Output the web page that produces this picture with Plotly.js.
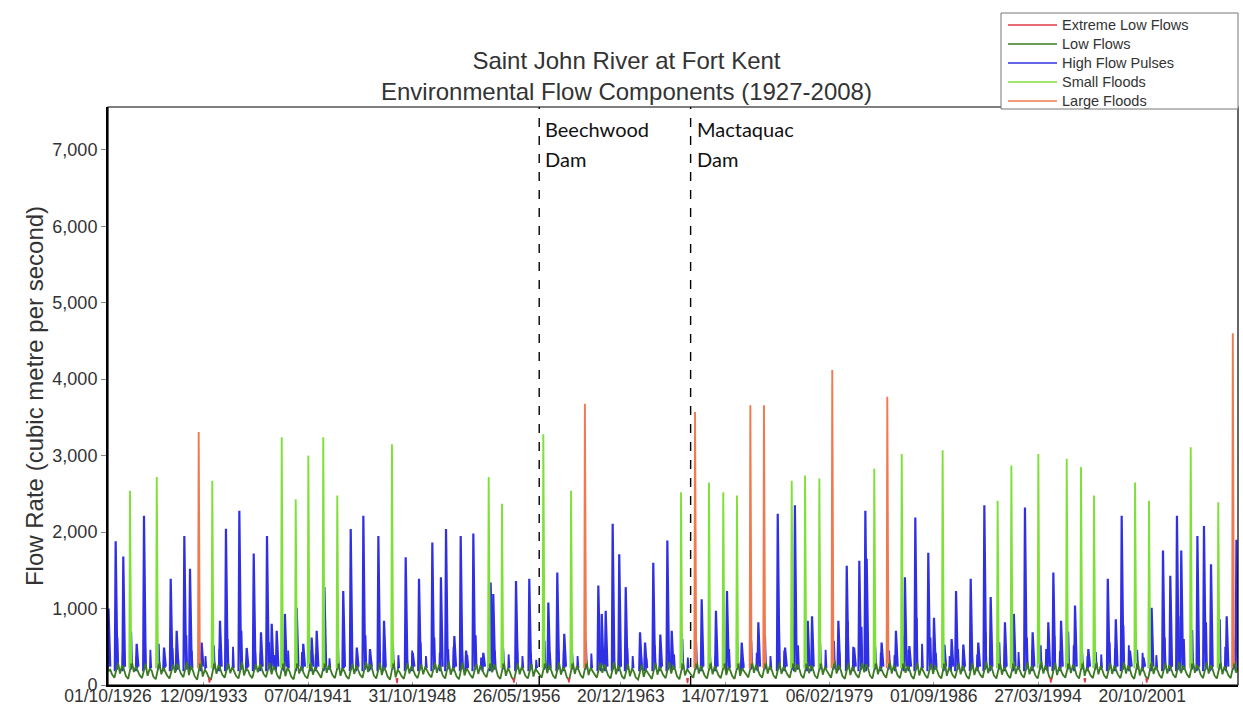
<!DOCTYPE html>
<html>
<head>
<meta charset="utf-8">
<script src="https://cdn.plot.ly/plotly-3.0.1.min.js"></script>
<style>
  html, body { margin: 0; padding: 0; background: #ffffff; }
  #chart { width: 1243px; height: 710px; }
</style>
</head>
<body>
<div id="chart"></div>
<script>
// ---------------- DATA ----------------
const tickDates = ['1926-10-01','1933-09-12','1941-04-07','1948-10-31','1956-05-26','1963-12-20',
                   '1971-07-14','1979-02-06','1986-09-01','1994-03-27','2001-10-20'];
const tickLabels = ['01/10/1926','12/09/1933','07/04/1941','31/10/1948','26/05/1956','20/12/1963',
                    '14/07/1971','06/02/1979','01/09/1986','27/03/1994','20/10/2001'];

const damDates = ['1958-01-15', '1969-01-10'];
const damNames = ['Beechwood', 'Mactaquac'];

const seriesNames = ['Extreme Low Flows','Low Flows','High Flow Pulses','Small Floods','Large Floods'];
const seriesColors = ['#e03a48','#3b7a22','#2f2fe3','#7fe03a','#f07a50'];

// Small floods (peak date, peak flow m3/s)
const smallFloodDates = ['1928-05-06','1930-04-15','1934-04-26','1939-05-10','1940-05-15','1941-04-15',
  '1942-05-15','1943-05-22','1947-05-10','1954-05-17','1955-05-05','1958-05-04','1960-05-08',
  '1968-05-01','1970-05-12','1971-05-25','1972-05-22','1976-05-12','1977-05-01','1978-05-15',
  '1982-05-10','1984-05-06','1987-04-25','1991-04-22','1992-04-20','1994-04-05','1996-04-26',
  '1997-05-10','1998-04-20','2001-04-12','2002-04-16','2005-04-26','2007-04-26'];
const smallFloodPeaks = [2540,2720,2670,3240,2430,3000,
  3240,2480,3150,2720,2370,3280,2540,
  2520,2650,2520,2480,2670,2740,2700,
  2830,3020,3070,2410,2870,3020,2960,
  2850,2480,2650,2410,3110,2390];

// Large floods
const largeFloodDates = ['1933-05-01','1961-05-10','1969-05-07','1973-05-12','1974-05-08',
  '1979-04-22','1983-04-20','2008-05-15'];
const largeFloodPeaks = [3310,3680,3570,3660,3660,4120,3770,4600];

// High flow pulses (main pulses)
const pulseDates = ['1926-10-15','1927-04-22','1927-11-10','1928-10-30','1929-05-12','1930-10-25',
  '1931-04-20','1931-09-25','1932-04-15','1932-09-12','1933-07-18','1934-11-16','1935-04-23',
  '1936-04-12','1936-10-24','1937-04-28','1937-11-06','1938-04-15','1938-08-18','1938-12-28',
  '1939-08-03','1940-06-10','1940-12-01','1941-07-12','1941-11-22','1942-06-15','1943-10-27',
  '1944-05-12','1944-10-20','1945-04-12','1945-10-05','1946-05-15','1946-10-12','1948-05-08',
  '1948-11-10','1949-04-26','1950-04-14','1950-11-28','1951-04-12','1951-11-18','1952-05-05',
  '1952-09-25','1953-04-05','1953-12-25','1954-07-08','1954-09-15','1956-05-10','1957-04-27',
  '1958-09-14','1959-05-09','1959-11-10','1962-05-01','1962-07-30','1962-11-12','1963-05-16',
  '1963-11-06','1964-04-26','1965-05-10','1965-09-20','1966-04-26','1966-10-30','1967-05-04',
  '1967-08-28','1969-10-30','1970-11-12','1971-09-01','1972-09-25','1973-12-10','1975-05-08',
  '1975-11-18','1976-08-05','1977-07-12','1977-11-02','1979-10-01','1980-05-10','1980-11-20',
  '1981-04-08','1981-09-15','1981-10-20','1982-11-20','1983-12-05','1984-07-30','1984-11-25',
  '1985-05-01','1986-04-10','1986-09-08','1987-06-10','1987-12-20','1988-04-15','1988-10-25',
  '1989-05-08','1989-11-25','1990-05-05','1990-10-20','1991-11-02','1992-06-25','1993-04-15',
  '1993-11-05','1994-12-25','1995-05-08','1995-11-28','1996-12-02','1997-11-20','1999-04-20',
  '1999-11-18','2000-04-22','2000-11-28','2001-11-20','2002-06-25','2003-04-22','2003-11-02',
  '2004-04-26','2004-08-18','2005-10-20','2006-04-12','2006-10-15','2007-12-05','2008-08-20'];
const pulsePeaks = [1000,1880,1680,540,2215,490,
  1390,710,1950,1520,555,840,2045,
  2280,485,1720,690,1950,800,710,
  930,1010,540,620,710,1280,1230,
  2040,490,2215,470,1950,840,1670,
  420,1390,1865,1410,2040,640,1950,
  450,1980,420,1340,1190,1360,1390,
  1080,1470,670,1300,930,970,2110,
  1710,1280,690,555,1600,660,1890,
  710,1120,970,1230,555,820,2240,
  490,2350,840,900,840,1560,490,
  1625,2280,1650,555,710,1410,510,
  2190,1730,880,530,600,1230,530,
  1390,555,2350,1150,820,930,2320,
  690,820,1470,840,1040,470,1390,
  860,2215,450,360,1010,1760,1430,
  2215,1760,1950,2080,1580,900,1900];

// Smaller recession / rain pulses that thicken the lower part of the record
const minorPulseYears = [1927,1928,1929,1930,1931,1932,1933,1934,1935,1936,1937,1938,1939,1940,
  1941,1942,1943,1944,1945,1946,1947,1948,1949,1950,1951,1952,1953,1954,1955,1956,1957,1958,1959,
  1960,1961,1962,1963,1964,1965,1966,1967,1968,1969,1970,1971,1972,1973,1974,1975,1976,1977,1978,
  1979,1980,1981,1982,1983,1984,1985,1986,1987,1988,1989,1990,1991,1992,1993,1994,1995,1996,1997,
  1998,1999,2000,2001,2002,2003,2004,2005,2006,2007,2008];
const minorPulseSpring = [620,700,560,540,480,650,420,520,600,710,430,560,470,380,
  450,520,600,480,650,430,540,400,560,620,470,500,650,560,480,520,410,580,460,
  430,560,470,600,480,390,520,450,600,560,430,480,510,580,640,900,780,620,540,
  580,830,760,500,450,640,880,620,520,470,480,690,560,600,620,520,640,700,480,
  430,560,780,460,500,620,900,720,820,860,600,580];
const minorPulseAutumn = [420,380,460,350,400,450,380,470,500,360,420,390,450,430,
  400,350,480,420,360,400,390,450,380,420,500,390,360,450,400,380,330,420,450,
  380,410,500,440,380,350,420,400,360,450,380,470,350,420,380,450,520,400,460,
  430,500,480,420,390,460,540,420,380,450,400,480,520,430,460,470,440,520,380,
  400,480,520,420,390,560,600,520,480,500,440,420];

// Extreme low flows
const extremeLowDates = ['1934-02-10','1947-09-20','1956-03-15','1960-03-10','1968-10-20',
  '1995-03-01','1997-08-20','2002-02-15'];
const extremeLowValues = [30,25,30,35,25,30,35,30];

// Low flows: seasonal readings (mid-Jan, late-Mar, late-Jun, mid-Aug, mid-Oct, early-Dec)
const lowFlowSeasonDays = ['01-15','03-20','06-25','08-15','10-10','12-01'];
const lowFlowYears = [1926].concat(minorPulseYears);
const lowFlowValues = [
  [null,null,null,null,180,200],
  [140,95,290,150,260,200],[120,80,310,170,240,180],[130,90,280,120,210,190],[110,75,300,140,230,170],
  [125,85,270,160,280,210],[150,100,305,130,250,185],[115,70,320,110,200,160],[105,65,295,145,265,200],
  [135,95,285,155,235,175],[120,85,300,125,215,190],[130,90,275,165,270,205],[145,100,290,140,250,195],
  [125,80,315,115,225,180],[110,75,300,150,245,170],[120,85,285,135,230,185],[140,95,310,160,260,200],
  [130,90,295,120,220,175],[115,80,280,145,255,190],[135,95,300,170,275,210],[125,85,290,130,235,180],
  [110,70,320,100,200,165],[120,80,285,150,250,190],[130,90,270,140,240,185],[140,100,295,160,265,200],
  [125,85,305,135,230,180],[115,75,290,125,215,175],[130,90,280,145,255,195],[145,100,315,165,270,205],
  [120,80,300,120,220,170],[100,65,285,140,240,180],[120,85,275,110,210,175],[135,95,310,155,260,195],
  [125,85,295,135,235,185],[105,65,300,145,250,190],[130,90,320,130,225,180],[140,95,290,160,270,205],
  [125,85,300,140,255,190],[115,80,280,115,215,170],[100,70,265,105,200,160],[120,80,290,135,240,180],
  [130,90,300,150,255,195],[115,75,295,125,205,170],[135,95,310,150,250,195],[125,85,300,140,245,190],
  [130,90,290,130,235,185],[120,80,305,120,220,175],[140,100,315,160,265,200],[135,95,310,150,250,195],
  [125,85,295,145,240,190],[140,95,300,170,270,210],[130,90,295,155,255,200],[125,85,300,135,235,185],
  [140,95,320,150,260,200],[120,80,290,130,240,185],[135,95,285,165,275,210],[125,85,305,140,240,190],
  [140,95,315,150,255,200],[130,90,300,160,250,195],[120,80,290,125,230,180],[130,90,280,145,255,190],
  [125,85,300,120,225,185],[130,90,285,140,250,190],[120,80,290,130,235,180],[135,95,305,155,260,200],
  [125,85,295,135,240,185],[130,90,300,145,245,190],[135,95,295,140,250,195],[125,85,305,150,255,195],
  [110,70,290,130,240,185],[135,95,300,155,265,205],[125,85,310,120,225,180],[130,90,295,140,245,190],
  [125,85,285,145,250,190],[135,90,295,150,255,195],[120,80,300,125,230,180],[115,75,295,145,245,190],
  [130,90,290,150,260,200],[135,95,300,155,255,195],[140,95,310,160,265,205],[135,90,295,150,260,200],
  [125,85,300,140,245,190],[130,90,320,160,250,195]];

// ---------------- BUILD TRACES ----------------
const DAY = 86400000;
function ms(s) { return Date.parse(s + 'T00:00:00Z'); }
function iso(m) { return new Date(m).toISOString().slice(0, 10); }

function spikes(dates, peaks, riseDays, fallDays, startBase, endBase) {
  const x = [], y = [];
  dates.forEach((d, i) => {
    const c = ms(d);
    x.push(iso(c - riseDays * DAY), d, iso(c + fallDays * DAY), null);
    y.push(startBase, peaks[i], endBase, null);
  });
  return { x, y };
}

const lowX = [], lowY = [];
lowFlowYears.forEach((yr, i) => {
  lowFlowSeasonDays.forEach((md, j) => {
    const v = lowFlowValues[i][j];
    if (v !== null) { lowX.push(yr + '-' + md); lowY.push(v); }
  });
});

const minorDates = [], minorPeaks = [];
minorPulseYears.forEach((yr, i) => {
  minorDates.push(yr + '-06-08'); minorPeaks.push(minorPulseSpring[i]);
  minorDates.push(yr + '-10-28'); minorPeaks.push(minorPulseAutumn[i]);
});

const pulse = spikes(pulseDates, pulsePeaks, 22, 45, 180, 240);
const minor = spikes(minorDates, minorPeaks, 12, 22, 200, 220);
const small = spikes(smallFloodDates, smallFloodPeaks, 18, 30, 220, 280);
const large = spikes(largeFloodDates, largeFloodPeaks, 18, 30, 220, 280);
const xlow = spikes(extremeLowDates, extremeLowValues, 20, 20, 90, 90);

const common = { type: 'scatter', mode: 'lines', hoverinfo: 'skip', showlegend: false };
const traces = [
  Object.assign({}, common, { name: seriesNames[2], x: minor.x, y: minor.y,
    line: { color: seriesColors[2], width: 1.8 } }),
  Object.assign({}, common, { name: seriesNames[2], x: pulse.x, y: pulse.y,
    line: { color: seriesColors[2], width: 2.2 } }),
  Object.assign({}, common, { name: seriesNames[1], x: lowX, y: lowY,
    line: { color: seriesColors[1], width: 1.8 } }),
  Object.assign({}, common, { name: seriesNames[3], x: small.x, y: small.y,
    line: { color: seriesColors[3], width: 1.9 } }),
  Object.assign({}, common, { name: seriesNames[4], x: large.x, y: large.y,
    line: { color: seriesColors[4], width: 1.9 } }),
  Object.assign({}, common, { name: seriesNames[0], x: xlow.x, y: xlow.y,
    line: { color: seriesColors[0], width: 1.5 } })
];

// ---------------- LAYOUT ----------------
const FONT = 'Liberation Sans, Arial, Helvetica, sans-serif';
// plot area in page pixels: x 108..1238, y 107..685
const PX = v => (v - 108) / 1130;
const PY = v => (685 - v) / 578;

const shapes = damDates.map(d => ({
  type: 'line', xref: 'x', yref: 'paper', x0: d, x1: d, y0: 0, y1: 1,
  line: { color: '#000', width: 1.4, dash: 'dash' }
}));
shapes.push({ type: 'rect', xref: 'paper', yref: 'paper', x0: 0, x1: 1, y0: 0, y1: 1,
  line: { color: '#000', width: 1.2 }, fillcolor: 'rgba(0,0,0,0)' });

const annotations = [];
damDates.forEach((d, i) => {
  annotations.push({ xref: 'x', yref: 'paper', x: d, y: 1, xanchor: 'left', yanchor: 'top',
    xshift: 4, yshift: -8, text: damNames[i], showarrow: false, align: 'left',
    font: { family: 'Lato, Noto Sans, sans-serif', size: 20, color: '#111' } });
  annotations.push({ xref: 'x', yref: 'paper', x: d, y: 1, xanchor: 'left', yanchor: 'top',
    xshift: 4, yshift: -38, text: 'Dam', showarrow: false, align: 'left',
    font: { family: 'Lato, Noto Sans, sans-serif', size: 20, color: '#111' } });
});

// Legend box (drawn as shapes + text)
shapes.push({ type: 'rect', xref: 'paper', yref: 'paper', x0: PX(1001), x1: PX(1238),
  y0: PY(109), y1: PY(13), line: { color: '#777', width: 1 }, fillcolor: '#ffffff', layer: 'above' });
const legendRows = [25, 44, 63, 82, 101];
seriesNames.forEach((name, i) => {
  shapes.push({ type: 'line', xref: 'paper', yref: 'paper', x0: PX(1008), x1: PX(1057),
    y0: PY(legendRows[i]), y1: PY(legendRows[i]), line: { color: seriesColors[i], width: 1.6 }, layer: 'above' });
  annotations.push({ xref: 'paper', yref: 'paper', x: PX(1061), y: PY(legendRows[i]),
    xanchor: 'left', yanchor: 'middle', text: name, showarrow: false, borderpad: 0,
    font: { family: FONT, size: 14.5, color: '#333' } });
});

const layout = {
  width: 1243, height: 710,
  margin: { l: 108, r: 5, t: 107, b: 25 },
  paper_bgcolor: '#ffffff', plot_bgcolor: '#ffffff',
  font: { family: FONT, color: '#333' },
  title: {
    text: 'Saint John River at Fort Kent<br>Environmental Flow Components (1927-2008)',
    xref: 'container', x: 0.504, xanchor: 'center',
    yref: 'container', y: 0.903, yanchor: 'top',
    font: { family: FONT, size: 24, color: '#333' }
  },
  showlegend: false,
  xaxis: {
    type: 'date', range: ['1926-10-01', '2008-09-30'],
    tickmode: 'array', tickvals: tickDates, ticktext: tickLabels,
    tickfont: { family: FONT, size: 17.5, color: '#333' },
    ticks: 'inside', ticklen: 3, tickcolor: '#999', ticklabelstandoff: -6,
    showline: true, linecolor: '#000', linewidth: 2,
    showgrid: false, zeroline: false, fixedrange: true, automargin: false
  },
  yaxis: {
    range: [0, 7560], tickmode: 'linear', tick0: 0, dtick: 1000, tickformat: ',d',
    tickfont: { family: FONT, size: 18, color: '#333' },
    ticks: 'outside', ticklen: 5, tickcolor: '#888',
    showline: true, linecolor: '#000', linewidth: 2,
    showgrid: false, zeroline: false, fixedrange: true,
    title: { text: 'Flow Rate (cubic metre per second)', standoff: 2,
             font: { family: FONT, size: 24, color: '#333' } },
    automargin: false
  },
  shapes: shapes,
  annotations: annotations
};

Plotly.newPlot('chart', traces, layout, { displayModeBar: false, staticPlot: true });
</script>
</body>
</html>
